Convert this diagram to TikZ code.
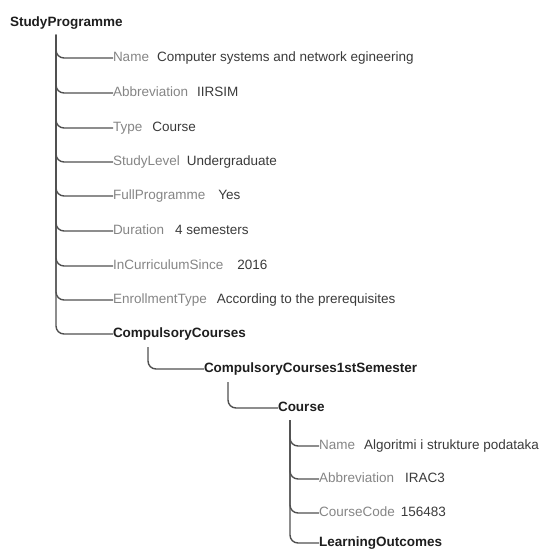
\documentclass[tikz,border=0pt]{standalone}
\usepackage{fontspec}
\setmainfont{Liberation Sans}
\definecolor{labc}{HTML}{858585}
\definecolor{valc}{HTML}{3A3A3A}
\definecolor{titc}{HTML}{1E1E1E}
\definecolor{linec}{HTML}{505050}
\newcommand{\lab}[1]{{\color{labc}#1}}
\begin{document}
\begin{tikzpicture}[x=1pt,y=-1pt,
  every node/.style={inner sep=0pt,outer sep=0pt,anchor=west,text height=10pt,text depth=3pt,
    font=\fontsize{13.5pt}{16pt}\selectfont},
  title/.style={font=\fontsize{13.5pt}{16pt}\selectfont\bfseries,text=titc},
  entry/.style={text=valc},
  conn/.style={draw=linec,line width=1.4pt,rounded corners=8pt}]
\useasboundingbox (0,0) rectangle (545,551);
% root
\node[title] (sp) at (10,23) {StudyProgramme};
\coordinate (spstem) at (56,35);
\node[entry] (n1) at (113,58) {\lab{Name}\hspace{8pt}Computer systems and network egineering};
\node[entry] (n2) at (113,93) {\lab{Abbreviation}\hspace{9pt}IIRSIM};
\node[entry] (n3) at (113,128) {\lab{Type}\hspace{10pt}Course};
\node[entry] (n4) at (113,162) {\lab{StudyLevel}\hspace{7pt}Undergraduate};
\node[entry] (n5) at (113,196) {\lab{FullProgramme}\hspace{13pt}Yes};
\node[entry] (n6) at (113,231) {\lab{Duration}\hspace{11pt}4 semesters};
\node[entry] (n7) at (113,266) {\lab{InCurriculumSince}\hspace{14pt}2016};
\node[entry] (n8) at (113,300) {\lab{EnrollmentType}\hspace{10pt}According to the prerequisites};
\node[title] (cc) at (113,334) {CompulsoryCourses};
\foreach \c in {n1,n2,n3,n4,n5,n6,n7,n8,cc}
  \draw[conn] (spstem) |- (\c.west);
% compulsory courses
\coordinate (ccstem) at (148,347);
\node[title] (cc1) at (204,369) {CompulsoryCourses1stSemester};
\draw[conn] (ccstem) |- (cc1.west);
% semester
\coordinate (cc1stem) at (228,382);
\node[title] (course) at (278,408) {Course};
\draw[conn] (cc1stem) |- (course.west);
% course
\coordinate (costem) at (290,420);
\node[entry] (c1) at (319,446) {\lab{Name}\hspace{9pt}Algoritmi i strukture podataka};
\node[entry] (c2) at (319,479) {\lab{Abbreviation}\hspace{11pt}IRAC3};
\node[entry] (c3) at (319,513) {\lab{CourseCode}\hspace{6pt}156483};
\node[title] (lo) at (319,543) {LearningOutcomes};
\foreach \c in {c1,c2,c3,lo}
  \draw[conn] (costem) |- (\c.west);
\end{tikzpicture}
\end{document}
